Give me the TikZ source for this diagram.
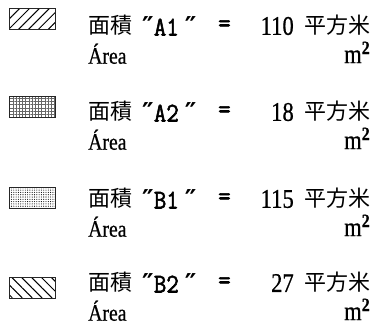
\documentclass[tikz,border=0pt]{standalone}
\usepackage{fontspec}
\setmainfont{Liberation Serif}[FakeStretch=0.84, FakeBold=0.6]
\setmonofont{Latin Modern Mono}[FakeBold=2, FakeStretch=0.9]
\newfontfamily\cjk{Noto Sans CJK JP}
\newfontfamily\dv{DejaVu Sans}
\usetikzlibrary{positioning, patterns.meta}
\newcommand{\navod}{{\dv\bfseries\fontsize{26}{26}\selectfont ″}}
\tikzset{
  oznaka/.style  = {draw=black!85, line width=1pt, minimum width=46pt,
                    minimum height=21pt, inner sep=0pt},
  ime/.style     = {anchor=west, inner sep=0pt, font=\cjk\fontsize{22}{22}\selectfont},
  kod/.style     = {anchor=west, inner sep=0pt, font=\ttfamily\fontsize{27}{27}\selectfont},
  broj/.style    = {anchor=east, inner sep=0pt, font=\fontsize{27}{27}\selectfont},
  jedinica/.style= {anchor=west, inner sep=0pt, font=\cjk\fontsize{22}{22}\selectfont},
  podpis/.style  = {anchor=west, inner sep=0pt, font=\fontsize{23.5}{23.5}\selectfont},
  kvadrat/.style = {anchor=east, inner sep=0pt, font=\fontsize{27}{27}\selectfont},
}

\begin{document}
\begin{tikzpicture}[x=1pt, y=-1pt]
  \useasboundingbox (0,0) rectangle (388,335);

  % A1
  \node[oznaka, pattern={Lines[angle=45, distance=7pt, line width=1pt]}] (p1) at (32,18.5) {};
  \node[ime] (n1) at (88,25) {面積};
  \node[kod] (k1) at (142,26) {\navod A1\hspace{6pt}\navod};
  \node[kod] (e1) at (218,26) {=};
  \node[broj] (b1) at (294,26) {110};
  \node[jedinica] (j1) at (304,25) {平方米};
  \node[podpis, below=8pt of n1.south west, anchor=north west] (a1) {Área};
  \node[kvadrat, below=6pt of j1.south east, anchor=north east] (m1) {m\textsuperscript{\textbf{2}}};

  % A2
  \node[oznaka, pattern={Hatch[angle=0, distance=3.2pt, line width=0.25pt]}, pattern color=black!60] (p2) at (32,107) {};
  \node[ime] (n2) at (88,111) {面積};
  \node[kod] (k2) at (142,112) {\navod A2\hspace{6pt}\navod};
  \node[kod] (e2) at (218,112) {=};
  \node[broj] (b2) at (294,112) {18};
  \node[jedinica] (j2) at (304,111) {平方米};
  \node[podpis, below=8pt of n2.south west, anchor=north west] (a2) {Área};
  \node[kvadrat, below=6pt of j2.south east, anchor=north east] (m2) {m\textsuperscript{\textbf{2}}};

  % B1
  \node[oznaka, pattern={Dots[distance=2.3pt, radius=0.55pt]}] (p3) at (32,197.5) {};
  \node[ime] (n3) at (88,198) {面積};
  \node[kod] (k3) at (142,199) {\navod B1\hspace{6pt}\navod};
  \node[kod] (e3) at (218,199) {=};
  \node[broj] (b3) at (294,199) {115};
  \node[jedinica] (j3) at (304,198) {平方米};
  \node[podpis, below=8pt of n3.south west, anchor=north west] (a3) {Área};
  \node[kvadrat, below=6pt of j3.south east, anchor=north east] (m3) {m\textsuperscript{\textbf{2}}};

  % B2
  \node[oznaka, pattern={Lines[angle=-45, distance=7pt, line width=1pt]}] (p4) at (32,287.5) {};
  \node[ime] (n4) at (88,282) {面積};
  \node[kod] (k4) at (142,283) {\navod B2\hspace{6pt}\navod};
  \node[kod] (e4) at (218,283) {=};
  \node[broj] (b4) at (294,283) {27};
  \node[jedinica] (j4) at (304,282) {平方米};
  \node[podpis, below=8pt of n4.south west, anchor=north west] (a4) {Área};
  \node[kvadrat, below=6pt of j4.south east, anchor=north east] (m4) {m\textsuperscript{\textbf{2}}};
\end{tikzpicture}
\end{document}
